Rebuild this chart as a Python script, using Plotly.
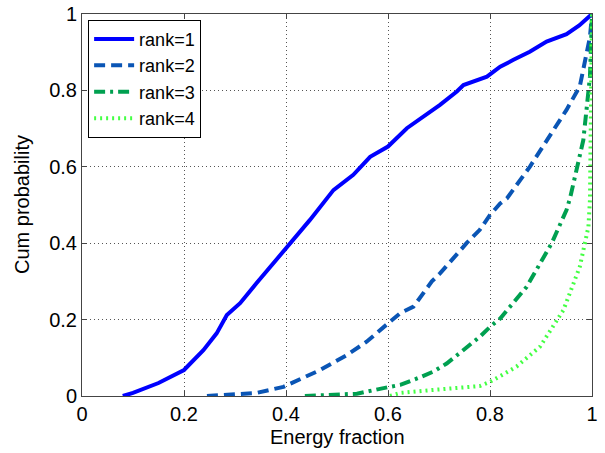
import plotly.graph_objects as go

# Data
rank1_x = [0.08, 0.1, 0.15, 0.2, 0.238, 0.264, 0.284, 0.31, 0.342, 0.369, 0.395, 0.447, 0.493, 0.532, 0.565, 0.6, 0.637, 0.669, 0.702, 0.735, 0.748, 0.794, 0.82, 0.846, 0.878, 0.911, 0.95, 0.975, 1.0]
rank1_y = [0.0, 0.008, 0.034, 0.068, 0.12, 0.164, 0.212, 0.243, 0.295, 0.338, 0.382, 0.461, 0.539, 0.579, 0.626, 0.653, 0.701, 0.73, 0.762, 0.797, 0.814, 0.836, 0.862, 0.88, 0.901, 0.928, 0.947, 0.97, 1.0]

rank2_x = [0.245, 0.3, 0.342, 0.395, 0.467, 0.519, 0.558, 0.6, 0.624, 0.65, 0.686, 0.702, 0.754, 0.78, 0.8, 0.82, 0.833, 0.878, 0.911, 0.95, 0.976, 0.996, 1.0]
rank2_y = [0.0, 0.005, 0.008, 0.024, 0.068, 0.107, 0.142, 0.19, 0.217, 0.234, 0.3, 0.321, 0.4, 0.435, 0.474, 0.504, 0.517, 0.6, 0.67, 0.749, 0.81, 0.94, 1.0]

rank3_x = [0.437, 0.5, 0.539, 0.6, 0.624, 0.663, 0.689, 0.715, 0.754, 0.78, 0.8, 0.82, 0.872, 0.921, 0.95, 0.957, 0.983, 0.996, 1.0]
rank3_y = [0.0, 0.004, 0.006, 0.023, 0.029, 0.049, 0.064, 0.085, 0.129, 0.155, 0.181, 0.203, 0.286, 0.4, 0.487, 0.518, 0.67, 0.836, 1.0]

rank4_x = [0.604, 0.624, 0.689, 0.78, 0.8, 0.852, 0.898, 0.944, 0.976, 0.993, 0.996, 1.0]
rank4_y = [0.0, 0.008, 0.016, 0.026, 0.037, 0.077, 0.129, 0.225, 0.338, 0.443, 0.513, 1.0]

names = ["rank=1", "rank=2", "rank=3", "rank=4"]
tick_vals = [0, 0.2, 0.4, 0.6, 0.8, 1]
tick_text = ["0", "0.2", "0.4", "0.6", "0.8", "1"]
x_title = "Energy fraction"
y_title = "Cum probability"

series = [
    (rank1_x, rank1_y, "#0000FF", "solid"),
    (rank2_x, rank2_y, "#0A55B5", "11px,6px"),
    (rank3_x, rank3_y, "#00A050", "11px,5px,3px,5px"),
    (rank4_x, rank4_y, "#44FF44", "2px,4px"),
]

fig = go.Figure()
for (xs, ys, col, dash), nm in zip(series, names):
    fig.add_trace(go.Scatter(x=xs, y=ys, mode="lines", name=nm,
                             line=dict(color=col, width=4, dash=dash)))

axis_common = dict(
    range=[0, 1], tickvals=tick_vals, ticktext=tick_text,
    ticks="inside", ticklen=5, tickcolor="#444",
    showline=True, linecolor="#444", linewidth=1, mirror="allticks",
    showgrid=True, gridcolor="#555", griddash="1px,3px", gridwidth=1,
    zeroline=False, tickfont=dict(size=20, color="black"),
    automargin=False, ticklabeloverflow="allow",
)

fig.update_layout(
    width=605, height=453,
    margin=dict(l=82, r=13, t=14, b=57),
    paper_bgcolor="white", plot_bgcolor="white",
    font=dict(family="Liberation Sans, Arial, sans-serif", color="black"),
    showlegend=True,
    legend=dict(x=0.012, y=0.985, xanchor="left", yanchor="top",
                bgcolor="white", bordercolor="black", borderwidth=1,
                font=dict(size=18), tracegroupgap=0, itemwidth=40),
)
fig.update_xaxes(**axis_common)
fig.update_yaxes(**axis_common)

fig.add_annotation(text=x_title, xref="paper", yref="paper", x=0.5, y=0,
                   xanchor="center", yanchor="middle", yshift=-41,
                   showarrow=False, font=dict(size=20, color="black"))
fig.add_annotation(text=y_title, xref="paper", yref="paper", x=0, y=0.5,
                   xanchor="center", yanchor="middle", xshift=-60, textangle=-90,
                   showarrow=False, font=dict(size=20, color="black"))

# remove the page's default body margin so the figure fills the window exactly
fig.write_html("out.html",
               config={"displayModeBar": False},
               post_script="document.body.style.margin='0';document.body.style.overflow='hidden';")
